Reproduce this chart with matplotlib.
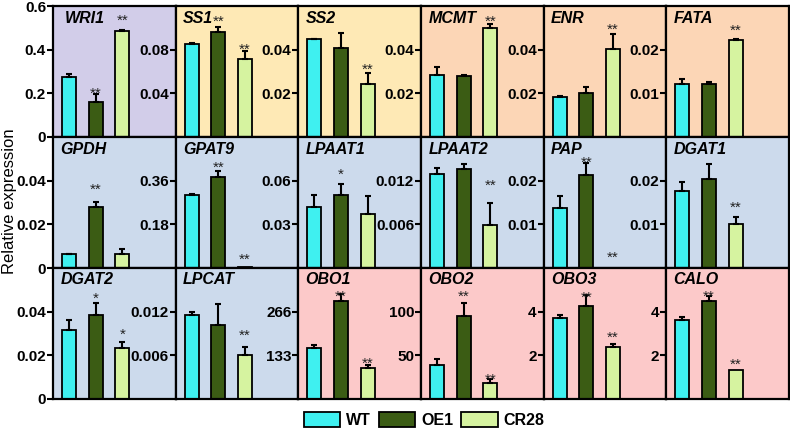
import numpy as np
import matplotlib.pyplot as plt
from matplotlib.patches import Patch

plt.rcParams['font.family'] = ['Liberation Sans', 'DejaVu Sans']

# --- Data ---

genes = ['WRI1', 'SS1', 'SS2', 'MCMT', 'ENR', 'FATA',
         'GPDH', 'GPAT9', 'LPAAT1', 'LPAAT2', 'PAP', 'DGAT1',
         'DGAT2', 'LPCAT', 'OBO1', 'OBO2', 'OBO3', 'CALO']
groups = ['WT', 'OE1', 'CR28']

wt = [0.275, 0.0848, 0.0448, 0.0286, 0.0182, 0.0121,
      0.0063, 0.300, 0.042, 0.01296, 0.0137, 0.0176,
      0.0316, 0.01151, 155, 38.4, 3.69, 3.61]
oe1 = [0.159, 0.0959, 0.0408, 0.0281, 0.020, 0.0121,
       0.028, 0.375, 0.0501, 0.01358, 0.0212, 0.0204,
       0.0387, 0.01012, 300, 94.8, 4.28, 4.50]
cr28 = [0.486, 0.0713, 0.0241, 0.0497, 0.0403, 0.0222,
        0.0063, 0.003, 0.037, 0.00596, 0.0, 0.0101,
        0.0232, 0.0061, 95, 18.8, 2.36, 1.34]

wt_err = [0.014, 0.001, 0.0003, 0.0034, 0.0005, 0.0012,
          0.0001, 0.005, 0.0079, 0.00076, 0.0029, 0.0021,
          0.0048, 0.00045, 10, 7.5, 0.15, 0.14]
oe1_err = [0.036, 0.005, 0.0067, 0.0004, 0.003, 0.0004,
           0.0022, 0.023, 0.0077, 0.00068, 0.0028, 0.0035,
           0.0052, 0.00292, 20, 15, 0.49, 0.23]
cr28_err = [0.004, 0.0075, 0.0054, 0.0019, 0.0068, 0.0002,
            0.0026, 0.0, 0.0124, 0.00302, 0.0, 0.0015,
            0.0031, 0.00108, 9, 3.8, 0.15, 0.0]

# y-axis upper limit and labelled ticks for each panel
ytop = [0.6, 0.12, 0.06, 0.06, 0.06, 0.03,
        0.06, 0.54, 0.09, 0.018, 0.03, 0.03,
        0.06, 0.018, 399, 150, 6, 6]
yticks = [[0, 0.2, 0.4, 0.6], [0.04, 0.08], [0.02, 0.04], [0.02, 0.04], [0.02, 0.04], [0.01, 0.02],
          [0, 0.02, 0.04], [0.18, 0.36], [0.03, 0.06], [0.006, 0.012], [0.01, 0.02], [0.01, 0.02],
          [0, 0.02, 0.04], [0.006, 0.012], [133, 266], [50, 100], [2, 4], [2, 4]]
yticklabels = [['0', '0.2', '0.4', '0.6'], ['0.04', '0.08'], ['0.02', '0.04'], ['0.02', '0.04'],
               ['0.02', '0.04'], ['0.01', '0.02'],
               ['0', '0.02', '0.04'], ['0.18', '0.36'], ['0.03', '0.06'], ['0.006', '0.012'],
               ['0.01', '0.02'], ['0.01', '0.02'],
               ['0', '0.02', '0.04'], ['0.006', '0.012'], ['133', '266'], ['50', '100'],
               ['2', '4'], ['2', '4']]

# significance marks: (bar index, y in data units, label)
stars = [[(1, 0.220, '**'), (2, 0.551, '**')],
         [(1, 0.1093, '**'), (2, 0.0837, '**')],
         [(2, 0.0328, '**')],
         [(2, 0.0546, '**')],
         [(2, 0.0512, '**')],
         [(2, 0.0253, '**')],
         [(1, 0.0378, '**')],
         [(1, 0.4295, '**'), (2, 0.0528, '**')],
         [(1, 0.0668, '*')],
         [(2, 0.01192, '**')],
         [(1, 0.0251, '**'), (2, 0.00345, '**')],
         [(2, 0.01474, '**')],
         [(1, 0.0477, '*'), (2, 0.0316, '*')],
         [(2, 0.00925, '**')],
         [(1, 325, '**'), (2, 120, '**')],
         [(1, 122, '**'), (2, 27.1, '**')],
         [(1, 4.84, '**'), (2, 2.99, '**')],
         [(1, 4.89, '**'), (2, 1.76, '**')]]

# panel background groups
lavender = '#d2cde9'
yellow = '#fee9b5'
peach = '#fcd6b6'
blue = '#ccdaec'
pink = '#fcc9c9'
bg = [lavender, yellow, yellow, peach, peach, peach,
      blue, blue, blue, blue, blue, blue,
      blue, blue, pink, pink, pink, pink]

bar_colors = ['#3ff0f0', '#3b5c14', '#d6f3a0']

# --- Figure ---

fig = plt.figure(figsize=(7.9, 4.3), dpi=100)

W, H = 790, 430
left_px, right_px = 53, 789
row_edges = [6, 137, 268, 399]
pw = (right_px - left_px) / 6
x = np.arange(3)
star_fs = 11

for i, gene in enumerate(genes):
    r, c = divmod(i, 6)
    top, bot = row_edges[r], row_edges[r + 1]
    ax = fig.add_axes([(left_px + c * pw) / W, 1 - bot / H, pw / W, (bot - top) / H])
    ax.set_facecolor(bg[i])

    vals = [wt[i], oe1[i], cr28[i]]
    errs = [wt_err[i], oe1_err[i], cr28_err[i]]
    for j in range(3):
        if vals[j] <= 0:
            continue
        ax.bar(x[j], vals[j], width=0.52, color=bar_colors[j],
               edgecolor='black', linewidth=1.3, zorder=2)
        if errs[j] > 0:
            ax.errorbar(x[j], vals[j], yerr=[[0], [errs[j]]], fmt='none',
                        ecolor='black', elinewidth=1.5, capsize=2.5,
                        capthick=1.5, zorder=3)

    for j, yv, txt in stars[i]:
        ax.annotate(txt, (x[j], yv), xytext=(0, -0.55 * star_fs),
                    textcoords='offset points', ha='center', va='baseline',
                    fontsize=star_fs, color='#222222', zorder=4)

    ax.text(0.06 if i else 0.1, 1 - 12 / (bot - top), gene, transform=ax.transAxes,
            fontsize=11.5, fontweight='bold', fontstyle='italic',
            ha='left', va='center', zorder=5)

    ax.set_xlim(-0.6, 4.0)
    ax.set_ylim(0, ytop[i])
    ax.set_xticks([])
    ax.set_yticks(yticks[i])
    ax.set_yticklabels(yticklabels[i], fontsize=11, fontweight='bold')
    ax.tick_params(axis='y', direction='out', length=4, width=1.5, pad=1)
    for s in ax.spines.values():
        s.set_linewidth(1.6)

fig.text(10 / W, 1 - 201 / H, 'Relative expression', rotation=90,
         ha='center', va='center', fontsize=12)

handles = [Patch(facecolor=bar_colors[k], edgecolor='black', linewidth=1.3, label=groups[k])
           for k in range(3)]
fig.legend(handles=handles, loc='center', bbox_to_anchor=(424 / W, 1 - 420 / H),
           ncol=3, frameon=False, handlelength=2.3, handleheight=1.05,
           handletextpad=0.35, columnspacing=0.5, borderpad=0,
           prop={'size': 11.5, 'weight': 'bold'})

fig.savefig('out.png', dpi=100)
